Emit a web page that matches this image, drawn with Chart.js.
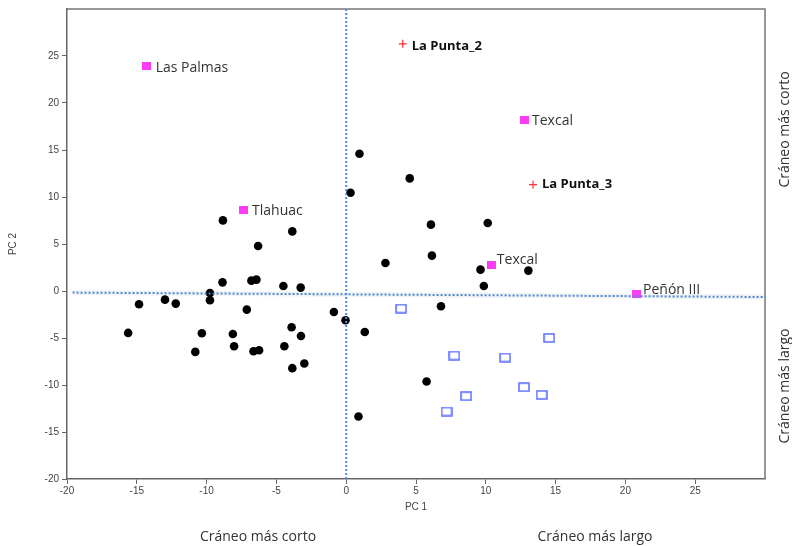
<!DOCTYPE html>
<html><head><meta charset="utf-8">
<script src="https://cdn.jsdelivr.net/npm/chart.js@4"></script>
<style>html,body{margin:0;padding:0;background:#fff}canvas{display:block}</style>
</head><body>
<canvas id="c" width="792" height="546"></canvas>
<script>
// ---- data ----
const blackX = [-8.83,-3.86,-6.31,-8.86,-6.79,-6.43,-4.50,-3.26,-9.76,-9.76,-14.84,-12.98,-12.21,-7.12,-0.88,-0.05,-15.62,-10.34,-8.12,-3.91,-3.24,-8.03,-4.43,-10.81,-6.64,-6.24,-3.00,-3.86,0.95,0.31,4.55,6.07,10.14,2.81,6.14,9.62,13.05,9.86,6.79,1.33,5.76,0.88];
const blackY = [7.51,6.34,4.78,0.92,1.10,1.21,0.53,0.36,-0.21,-0.99,-1.41,-0.92,-1.34,-1.98,-2.23,-3.11,-4.46,-4.50,-4.57,-3.86,-4.78,-5.88,-5.88,-6.48,-6.41,-6.30,-7.72,-8.21,14.60,10.46,11.98,7.06,7.23,2.98,3.76,2.27,2.17,0.53,-1.63,-4.36,-9.63,-13.35];
const openX = [3.93,7.74,11.38,14.54,12.74,14.00,8.59,7.19];
const openY = [-1.87,-6.87,-7.08,-4.99,-10.23,-11.05,-11.19,-12.82];
const siteLabels = ['Las Palmas','Tlahuac','Texcal','Texcal','Peñón III'];
const siteX = [-14.29,-7.39,12.74,10.43,20.76];
const siteY = [23.91,8.65,18.21,2.73,-0.28];
const puntaLabels = ['La Punta_2','La Punta_3'];
const puntaX = [4.05,13.38];
const puntaY = [26.29,11.31];
const vLineX = [0,0];
const vLineY = [30,-20];
const hLineX = [-19.6,30];
const hLineY = [-0.17,-0.64];
const axisTicks = [-20,-15,-10,-5,0,5,10,15,20,25];
const xTitle = 'PC 1';
const yTitle = 'PC 2';
const bottomLabels = ['Cráneo más corto','Cráneo más largo'];
const sideLabels = ['Cráneo más corto','Cráneo más largo'];

const zip = (xs, ys) => xs.map((v, i) => ({x: v, y: ys[i]}));

function makeImg(w, h, draw) {
  const c = document.createElement('canvas');
  c.width = w; c.height = h;
  draw(c.getContext('2d'));
  return c;
}
const openImg = makeImg(12, 10, g => { g.strokeStyle = '#5a6cff'; g.lineWidth = 1.5; g.strokeRect(1, 1, 10, 8); });
const pinkImg = makeImg(9, 8, g => { g.fillStyle = '#ff3cf5'; g.fillRect(0, 0, 9, 8); });

// label offsets (style, px)
const siteOffsets = [[9, 2], [9, 1], [8, 1], [5, -5.5], [7, -4]];
const puntaOffsets = [[9, 2], [9, 0]];

const extras = {
  id: 'extras',
  beforeDatasetsDraw(chart) {
    const {ctx, chartArea: a} = chart;
    ctx.save();
    ctx.strokeStyle = '#777';
    ctx.lineWidth = 1.5;
    ctx.beginPath();
    ctx.moveTo(a.left, a.top); ctx.lineTo(a.right, a.top); ctx.lineTo(a.right, a.bottom);
    ctx.stroke();
    ctx.restore();
  },
  afterDatasetsDraw(chart) {
    const {ctx, scales: {x, y}} = chart;
    ctx.save();
    ctx.textBaseline = 'middle';
    ctx.textAlign = 'left';
    ctx.fillStyle = '#333';
    ctx.font = '14px "Open Sans"';
    siteLabels.forEach((t, i) => {
      ctx.fillText(t, x.getPixelForValue(siteX[i]) + siteOffsets[i][0], y.getPixelForValue(siteY[i]) + siteOffsets[i][1]);
    });
    ctx.fillStyle = '#111';
    ctx.font = 'bold 13px "Open Sans"';
    puntaLabels.forEach((t, i) => {
      ctx.fillText(t, x.getPixelForValue(puntaX[i]) + puntaOffsets[i][0], y.getPixelForValue(puntaY[i]) + puntaOffsets[i][1]);
    });
    ctx.restore();
  },
  afterDraw(chart) {
    const {ctx} = chart;
    ctx.save();
    ctx.fillStyle = '#333';
    ctx.font = '14px "Open Sans"';
    ctx.textAlign = 'center';
    ctx.textBaseline = 'middle';
    ctx.fillText(bottomLabels[0], 258, 537);
    ctx.fillText(bottomLabels[1], 595, 537);
    [[129.5, sideLabels[0]], [386, sideLabels[1]]].forEach(([cy, t]) => {
      ctx.save();
      ctx.translate(785, cy);
      ctx.rotate(-Math.PI / 2);
      ctx.fillText(t, 0, 0);
      ctx.restore();
    });
    ctx.restore();
  }
};

const tickFont = {family: '"Liberation Sans", Arial, sans-serif', size: 10};

new Chart(document.getElementById('c'), {
  type: 'scatter',
  data: {
    datasets: [
      {label: 'v', data: zip(vLineX, vLineY), showLine: true, borderColor: '#4f8ad2', borderWidth: 2, borderDash: [2, 2], pointRadius: 0, order: 0},
      {label: 'h', data: zip(hLineX, hLineY), showLine: true, borderColor: '#4f8ad2', borderWidth: 2, borderDash: [2, 2], pointRadius: 0, order: 0},
      {label: 'hs', data: zip(hLineX, hLineY), showLine: true, borderColor: 'rgba(170,185,200,0.18)', borderWidth: 5, pointRadius: 0, order: 3},
      {label: 'sites', data: zip(siteX, siteY), pointStyle: pinkImg, order: 1},
      {label: 'punta', data: zip(puntaX, puntaY), pointStyle: 'cross', pointRadius: 4, borderColor: '#ff3030', borderWidth: 1.2, order: 1},
      {label: 'open', data: zip(openX, openY), pointStyle: openImg, order: 2},
      {label: 'black', data: zip(blackX, blackY), pointStyle: 'circle', pointRadius: 4.3, borderWidth: 0, backgroundColor: '#000', borderColor: '#000', order: 2}
    ]
  },
  options: {
    responsive: false,
    animation: false,
    events: [],
    layout: {padding: {left: 0, top: 8, right: 27, bottom: 0}},
    plugins: {legend: {display: false}, tooltip: {enabled: false}},
    scales: {
      x: {
        type: 'linear', min: -20, max: 30,
        afterBuildTicks: s => { s.ticks = axisTicks.map(v => ({value: v})); },
        afterFit: s => { s.height = 67; },
        grid: {display: true, drawOnChartArea: false, drawTicks: true, tickLength: 5, color: '#666'},
        border: {display: true, color: '#666', width: 1.5},
        ticks: {font: tickFont, color: '#444', padding: 1, maxRotation: 0},
        title: {display: true, text: xTitle, font: tickFont, color: '#444', padding: {top: 0, bottom: 33}}
      },
      y: {
        type: 'linear', min: -20, max: 30,
        afterBuildTicks: s => { s.ticks = axisTicks.map(v => ({value: v})); },
        afterFit: s => { s.width = 67; },
        grid: {display: true, drawOnChartArea: false, drawTicks: true, tickLength: 5, color: '#666'},
        border: {display: true, color: '#666', width: 1.5},
        ticks: {font: tickFont, color: '#444', padding: 3},
        title: {display: true, text: yTitle, font: tickFont, color: '#444', padding: {top: 7, bottom: 0}}
      }
    }
  },
  plugins: [extras]
});
</script>
</body></html>
